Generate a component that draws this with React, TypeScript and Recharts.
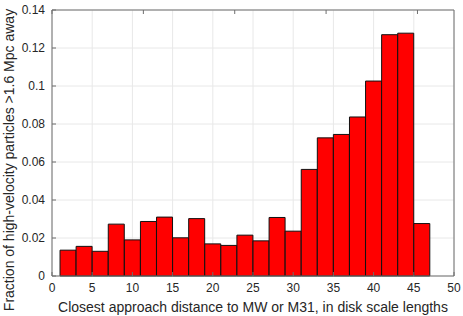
import React from "react";
import { BarChart, Bar, XAxis, YAxis, CartesianGrid } from "recharts";

const binCenters = [2, 4, 6, 8, 10, 12, 14, 16, 18, 20, 22, 24, 26, 28, 30, 32, 34, 36, 38, 40, 42, 44, 46];
const fractions = [
  0.0136, 0.0156, 0.013, 0.0273, 0.019, 0.0287, 0.031, 0.0201, 0.0302, 0.0169, 0.0161, 0.0215,
  0.0185, 0.0308, 0.0236, 0.0561, 0.0727, 0.0745, 0.0837, 0.1026, 0.127, 0.1278, 0.0276,
];
const xTicks = [0, 5, 10, 15, 20, 25, 30, 35, 40, 45, 50];
const yTicks = [0, 0.02, 0.04, 0.06, 0.08, 0.1, 0.12, 0.14];
const xLabel = "Closest approach distance to MW or M31, in disk scale lengths";
const yLabel = "Fraction of high-velocity particles >1.6 Mpc away";

const data = binCenters.map((x, i) => ({ x, f: fractions[i] }));

const FONT = "'Liberation Sans', Arial, Helvetica, sans-serif";
const AXIS = "#6e6e6e";
const TEXT = "#262626";

const emptyTick = () => <g />;

export default function App() {
  return (
    <div style={{ position: "absolute", left: 0, top: 0, width: 463, height: 316, background: "#fff" }}>
      <BarChart
        width={463}
        height={316}
        data={data}
        margin={{ top: 9, right: 8, bottom: 10, left: 0 }}
        barCategoryGap={0}
        barGap={0}
        style={{ fontFamily: FONT }}
      >
        <CartesianGrid stroke="#e8e8e8" strokeWidth={1} xAxisId="main" yAxisId="main" />
        <XAxis
          xAxisId="main"
          dataKey="x"
          type="number"
          domain={[0, 50]}
          ticks={xTicks}
          interval={0}
          height={30}
          tickSize={-4}
          tickMargin={11}
          stroke={AXIS}
          tick={{ fill: TEXT, fontSize: 12, fontFamily: FONT }}
          label={{
            content: () => (
              <text x={253} y={312} textAnchor="middle" fill={TEXT} fontSize={14} fontFamily={FONT}>
                {xLabel}
              </text>
            ),
          }}
        />
        <XAxis
          xAxisId="top"
          orientation="top"
          type="number"
          domain={[0, 50]}
          ticks={xTicks}
          interval={0}
          height={1}
          tickSize={-4}
          stroke={AXIS}
          tick={emptyTick}
        />
        <YAxis
          yAxisId="main"
          type="number"
          domain={[0, 0.14]}
          ticks={yTicks}
          interval={0}
          width={52}
          tickSize={-4}
          tickMargin={11}
          stroke={AXIS}
          tick={{ fill: TEXT, fontSize: 12, fontFamily: FONT }}
          label={{
            content: () => (
              <text
                x={9}
                y={160}
                transform="rotate(-90 9 160)"
                textAnchor="middle"
                dominantBaseline="central"
                fill={TEXT}
                fontSize={14}
                fontFamily={FONT}
              >
                {yLabel}
              </text>
            ),
          }}
        />
        <YAxis
          yAxisId="right"
          orientation="right"
          type="number"
          domain={[0, 0.14]}
          ticks={yTicks}
          interval={0}
          width={1}
          tickSize={-4}
          stroke={AXIS}
          tick={emptyTick}
        />
        <Bar
          xAxisId="main"
          yAxisId="main"
          dataKey="f"
          fill="#ff0000"
          stroke="#111"
          strokeWidth={1}
          isAnimationActive={false}
        />
      </BarChart>
    </div>
  );
}
